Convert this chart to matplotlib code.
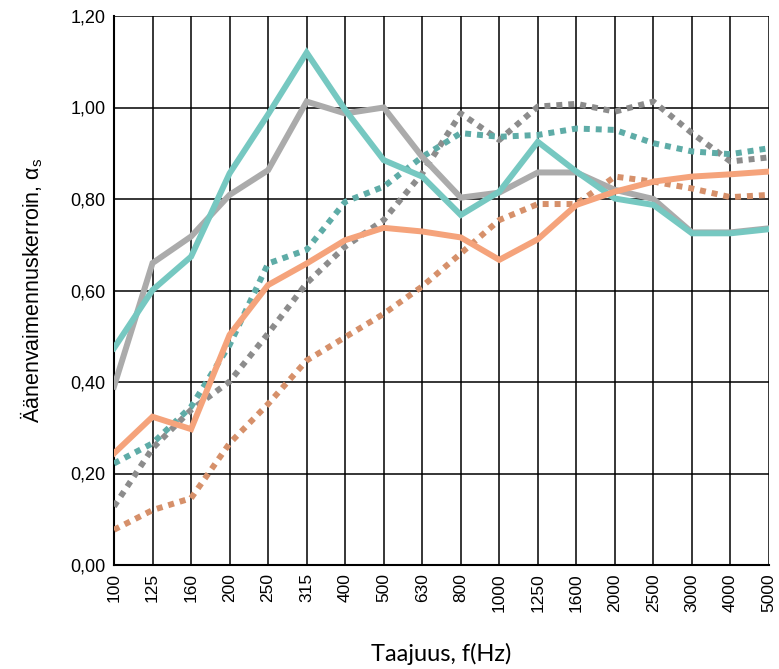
import matplotlib
matplotlib.use("Agg")
import matplotlib.pyplot as plt
import numpy as np

freqs = ["100", "125", "160", "200", "250", "315", "400", "500", "630", "800",
         "1000", "1250", "1600", "2000", "2500", "3000", "4000", "5000"]

gray_solid = [0.39, 0.66, 0.718, 0.809, 0.863, 1.013, 0.987, 1.000, 0.892, 0.803,
              0.814, 0.858, 0.858, 0.820, 0.800, 0.727, 0.727, 0.736]
teal_solid = [0.474, 0.601, 0.674, 0.856, 0.985, 1.120, 0.995, 0.885, 0.849, 0.765,
              0.816, 0.925, 0.860, 0.801, 0.787, 0.725, 0.725, 0.734]
orange_solid = [0.244, 0.324, 0.297, 0.503, 0.612, 0.659, 0.710, 0.737, 0.729, 0.716,
                0.667, 0.712, 0.787, 0.816, 0.838, 0.849, 0.854, 0.860]
gray_dotted = [0.128, 0.255, 0.339, 0.401, 0.506, 0.616, 0.696, 0.754, 0.856, 0.987,
               0.929, 1.002, 1.008, 0.991, 1.013, 0.944, 0.882, 0.891]
teal_dotted = [0.222, 0.266, 0.346, 0.481, 0.659, 0.689, 0.794, 0.827, 0.892, 0.944,
               0.936, 0.940, 0.954, 0.951, 0.922, 0.904, 0.898, 0.911]
orange_dotted = [0.077, 0.120, 0.146, 0.266, 0.352, 0.447, 0.498, 0.549, 0.609, 0.681,
                 0.754, 0.789, 0.789, 0.849, 0.838, 0.823, 0.804, 0.809]

yticks = [0.0, 0.2, 0.4, 0.6, 0.8, 1.0, 1.2]
ytick_labels = ["0,00", "0,20", "0,40", "0,60", "0,80", "1,00", "1,20"]

fig = plt.figure(figsize=(7.79, 6.69), dpi=100)
ax = fig.add_axes([114/779, 1-565/669, (769-114)/779, (565-16)/669])

x = np.arange(len(freqs))
lw = 4.3
dot = (0, (1, 1))
ax.plot(x, gray_dotted, color="#8c8c8c", lw=lw, ls=dot, dash_capstyle="butt", zorder=3)
ax.plot(x, teal_dotted, color="#5eaca7", lw=lw, ls=dot, dash_capstyle="butt", zorder=3)
ax.plot(x, orange_dotted, color="#d6906a", lw=lw, ls=dot, dash_capstyle="butt", zorder=3)
ax.plot(x, gray_solid, color="#ababab", lw=lw, solid_joinstyle="miter", zorder=4)
ax.plot(x, teal_solid, color="#76c8c1", lw=lw, solid_joinstyle="miter", zorder=5)
ax.plot(x, orange_solid, color="#f5a37b", lw=lw, solid_joinstyle="miter", zorder=6)

ax.set_xlim(0, len(freqs) - 1)
ax.set_ylim(0, 1.2)
ax.set_xticks(x)
ax.set_xticklabels(freqs, rotation=90, fontsize=12.5, family="Liberation Sans")
ax.set_yticks(yticks)
ax.set_yticklabels(ytick_labels, fontsize=13, family="Liberation Sans")
ax.tick_params(length=0, pad=6)
ax.grid(True, color="black", lw=1.1, zorder=1)
ax.set_axisbelow(True)
for s in ["top", "right"]:
    ax.spines[s].set_visible(False)
for s in ["left", "bottom"]:
    ax.spines[s].set_linewidth(1.5)

ax.set_xlabel("Taajuus, f(Hz)", fontsize=17, family="Lato", labelpad=22)
ax.set_ylabel("Äänenvaimennuskerroin, α$_\\mathregular{s}$", fontsize=15.5,
              family="Liberation Sans", labelpad=18)

fig.savefig("out.png", dpi=100)
